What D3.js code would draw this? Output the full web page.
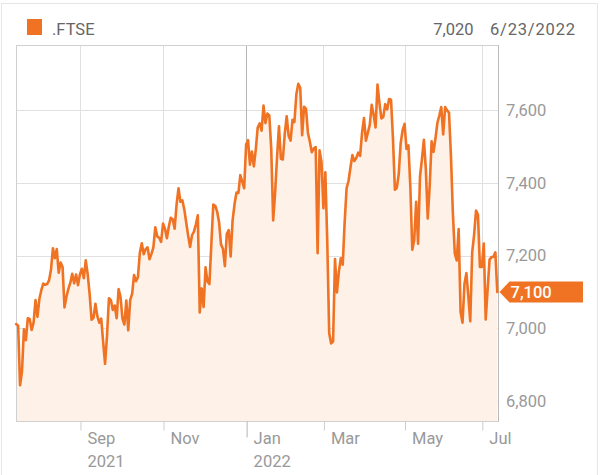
<!DOCTYPE html>
<html>
<head>
<meta charset="utf-8">
<script src="https://cdn.jsdelivr.net/npm/d3@7"></script>
<style>
  html, body { margin: 0; padding: 0; background: #fff; }
  svg { display: block; font-family: Roboto, "Noto Sans", sans-serif; }
</style>
</head>
<body>
<svg id="chart" width="601" height="475"></svg>
<script>
// ---- data (FTSE 100 daily closes, one per trading day, Jul 15 2021 -> Jul 13 2022) ----
const values = [
  7012, 7008, 6844, 6882, 6998, 6968, 7028, 7026, 6996, 7016, 7078, 7032,
  7081, 7105, 7123, 7120, 7122, 7132, 7161, 7220, 7193, 7218, 7153, 7181, 7169, 7058, 7087, 7109, 7125, 7150, 7124, 7148, 7119,
  7149, 7164, 7138, 7187, 7149, 7095, 7024, 7029, 7068, 7034, 7016, 7027, 6963, 6903, 6980, 7083, 7078, 7051, 7063, 7028, 7108, 7086,
  7027, 7011, 7077, 6995, 7078, 7095, 7147, 7130, 7141, 7208, 7234, 7204, 7218, 7223, 7190, 7205, 7223, 7278, 7253, 7249, 7238,
  7288, 7274, 7248, 7280, 7304, 7300, 7274, 7340, 7385, 7348, 7352, 7327, 7291, 7255, 7224, 7256, 7266, 7286, 7311, 7044, 7110, 7059,
  7168, 7129, 7122, 7232, 7340, 7337, 7321, 7292, 7231, 7219, 7171, 7260, 7270, 7198, 7297, 7341, 7373, 7372, 7421, 7403, 7385,
  7505, 7517, 7450, 7486, 7445, 7492, 7552, 7563, 7543, 7612, 7564, 7590, 7585, 7494, 7297, 7372, 7470, 7555, 7466, 7464,
  7535, 7583, 7529, 7516, 7573, 7567, 7643, 7672, 7661, 7531, 7609, 7603, 7537, 7513, 7484, 7494, 7498, 7207, 7489, 7458,
  7330, 7429, 7238, 6987, 6959, 6964, 7191, 7099, 7156, 7193, 7175, 7292, 7385, 7405, 7442, 7476, 7460, 7468, 7483, 7474, 7537, 7578, 7516,
  7538, 7559, 7614, 7587, 7552, 7670, 7619, 7577, 7581, 7616, 7601, 7630, 7628, 7522, 7381, 7386, 7425, 7509, 7545,
  7562, 7493, 7503, 7388, 7216, 7243, 7348, 7233, 7418, 7465, 7518, 7439, 7302, 7390, 7514, 7485, 7522, 7565, 7585, 7608,
  7533, 7608, 7599, 7593, 7476, 7318, 7206, 7187, 7273, 7045, 7016, 7122, 7152, 7089, 7020, 7209, 7258, 7324, 7312, 7169,
  7169, 7233, 7025, 7108, 7189, 7196, 7197, 7209, 7100
];
const tickIndex  = [33, 76, 119, 159, 201, 241];
const tickMonths = ["Sep", "Nov", "Jan", "Mar", "May", "Jul"];
const tickYears  = ["2021", "", "2022", "", "", ""];
const yTicks     = [6800, 7000, 7200, 7400, 7600];
const seriesName = ".FTSE";
const hoverValue = "7,020";
const hoverDate  = "6/23/2022";
const lastLabel  = "7,100";

// ---- layout ----
const ORANGE = "#f07223";
const plot = { left: 16.5, right: 498.5, top: 45.5, bottom: 421.5 };

const svg = d3.select("#chart");

const x = d3.scaleLinear().domain([0, values.length - 1]).range([16.2, 497.3]);
const y = d3.scaleLinear().domain([6800, 7600]).range([401.3, 110]);

// outer frame
svg.append("rect")
  .attr("x", 1.5).attr("y", 3.5).attr("width", 596).attr("height", 490)
  .attr("fill", "none").attr("stroke", "#e6e6e6");

// legend
svg.append("rect").attr("x", 27).attr("y", 19).attr("width", 15).attr("height", 16).attr("fill", ORANGE);
svg.append("text").attr("x", 52).attr("y", 34.5).attr("font-size", 16.5).attr("fill", "#666").text(seriesName);
svg.append("text").attr("x", 490).attr("y", 34.5).attr("font-size", 16.5).attr("fill", "#666")
  .attr("textLength", 85).attr("lengthAdjust", "spacing").text(hoverDate);
svg.append("text").attr("x", 473.5).attr("y", 34.5).attr("font-size", 16.5).attr("fill", "#666")
  .attr("text-anchor", "end").text(hoverValue);

// horizontal grid
svg.append("g").selectAll("line").data(yTicks).join("line")
  .attr("x1", plot.left).attr("x2", plot.right)
  .attr("y1", d => Math.round(y(d)) + 0.5).attr("y2", d => Math.round(y(d)) + 0.5)
  .attr("stroke", "#e0e0e0");

// vertical grid
svg.append("g").selectAll("line").data(tickIndex).join("line")
  .attr("x1", d => Math.round(x(d)) + 0.5).attr("x2", d => Math.round(x(d)) + 0.5)
  .attr("y1", plot.top).attr("y2", plot.bottom)
  .attr("stroke", (d, i) => tickYears[i] === "2022" ? "#b5b5b5" : "#e0e0e0");

// area + line
const area = d3.area().x((d, i) => x(i)).y0(plot.bottom).y1(d => y(d));
const line = d3.line().x((d, i) => x(i)).y(d => y(d));
svg.append("path").datum(values).attr("d", area).attr("fill", "#fdf1e8");

// plot frame
svg.append("rect")
  .attr("x", plot.left).attr("y", plot.top)
  .attr("width", plot.right - plot.left).attr("height", plot.bottom - plot.top)
  .attr("fill", "none").attr("stroke", "#d0d0d0");
svg.append("line").attr("x1", plot.right).attr("x2", plot.right)
  .attr("y1", plot.top).attr("y2", plot.bottom).attr("stroke", "#bbb");

svg.append("path").datum(values).attr("d", line)
  .attr("fill", "none").attr("stroke", ORANGE).attr("stroke-width", 2.6)
  .attr("stroke-linejoin", "round").attr("stroke-linecap", "round");

// x axis
const xAxis = d3.axisBottom(x).tickValues(tickIndex).tickSize(0)
  .tickFormat((d, i) => tickMonths[i]);
const gx = svg.append("g").attr("transform", `translate(0,${plot.bottom})`).call(xAxis);
gx.select(".domain").remove();
gx.selectAll(".tick line")
  .attr("x1", 0.5).attr("x2", 0.5)
  .attr("y1", 0).attr("y2", (d, i) => tickYears[i] === "2022" ? 16 : 9)
  .attr("stroke", (d, i) => tickYears[i] === "2022" ? "#b5b5b5" : "#ccc");
gx.selectAll(".tick text")
  .attr("x", 7).attr("y", 22.5).attr("dy", null)
  .attr("text-anchor", "start").attr("font-size", 16.5).attr("fill", "#999")
  .attr("font-family", "Roboto, sans-serif")
  .each(function(d, i) {
    if (tickYears[i]) {
      d3.select(this).append("tspan").attr("x", 7).attr("dy", 23.3).text(tickYears[i]);
    }
  });

// y axis (right)
const yAxis = d3.axisRight(y).tickValues(yTicks).tickSize(0).tickPadding(0)
  .tickFormat(d3.format(","));
const gy = svg.append("g").attr("transform", `translate(506,0)`).call(yAxis);
gy.select(".domain").remove();
gy.selectAll(".tick text")
  .attr("font-size", 16.5).attr("fill", "#999").attr("font-family", "Roboto, sans-serif");

// last value marker
const lastY = y(values[values.length - 1]);
svg.append("path")
  .attr("d", `M499.5,${lastY} L509.5,${lastY - 10.5} L583,${lastY - 10.5} L583,${lastY + 10.5} L509.5,${lastY + 10.5} Z`)
  .attr("fill", ORANGE);
svg.append("text").attr("x", 510.5).attr("y", lastY).attr("dy", "0.36em")
  .attr("font-size", 16.5).attr("font-weight", 500).attr("fill", "#fff").text(lastLabel);
</script>
</body>
</html>
